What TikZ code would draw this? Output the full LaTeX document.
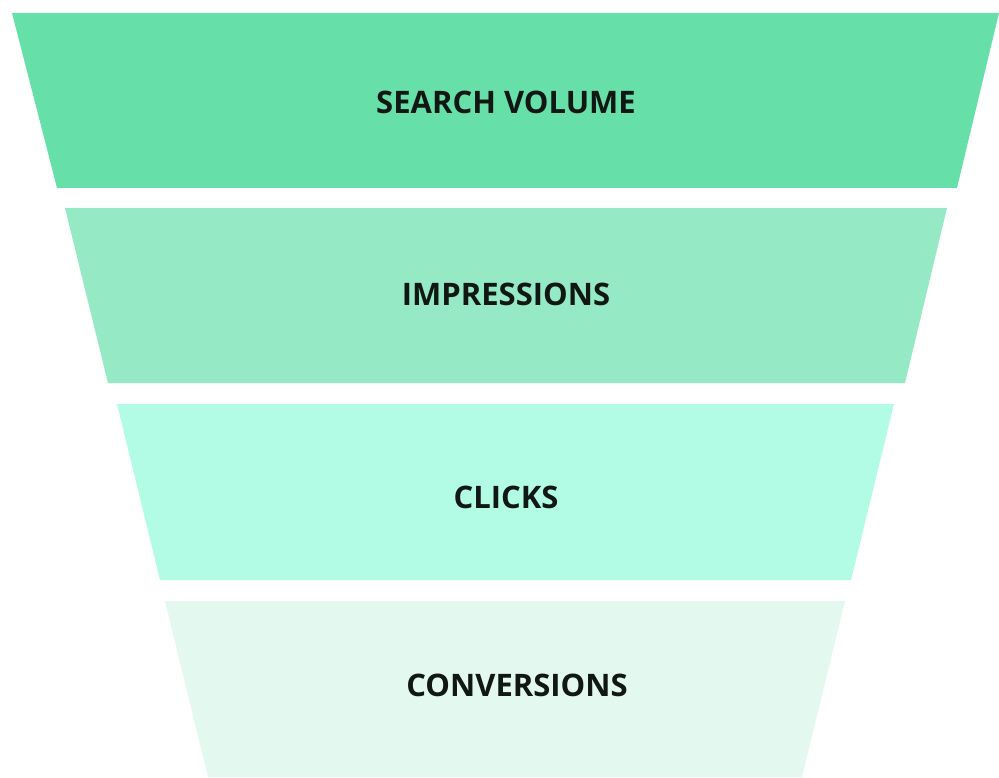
\documentclass[tikz,border=0pt]{standalone}
\usepackage{fontspec}
\setmainfont{Open Sans}
\usepackage{tikz}
\usetikzlibrary{positioning}
\usepackage{xcolor}
\definecolor{fnlgreen1}{RGB}{102,224,168}
\definecolor{fnlgreen2}{RGB}{149,233,196}
\definecolor{fnlgreen3}{RGB}{178,251,228}
\definecolor{fnlgreen4}{RGB}{227,248,239}
\definecolor{fnltext}{RGB}{17,24,20}
\tikzstyle{stagelabel} = [font=\fontsize{31}{36}\selectfont\bfseries, text=fnltext, inner sep=0pt]

\begin{document}
\begin{tikzpicture}[x=1pt, y=-1pt]
\useasboundingbox (0,0) rectangle (999,778);

% Funnel stages
\fill[fnlgreen1] (12,13) -- (999,13) -- (957,188) -- (57,188) -- cycle;
\fill[fnlgreen2] (65,208) -- (947,208) -- (905,383) -- (108,383) -- cycle;
\fill[fnlgreen3] (117,404) -- (894,404) -- (851,580) -- (160,580) -- cycle;
\fill[fnlgreen4] (165,601) -- (845,601) -- (802,777) -- (208,777) -- cycle;

% Labels
\node[stagelabel] (volume) at (506,102) {SEARCH VOLUME};
\node[stagelabel] (impress) at (506,294) {IMPRESSIONS};
\node[stagelabel] (clicks) at (506,497) {CLICKS};
\node[stagelabel] (convert) at (517,685) {CONVERSIONS};
\end{tikzpicture}
\end{document}
